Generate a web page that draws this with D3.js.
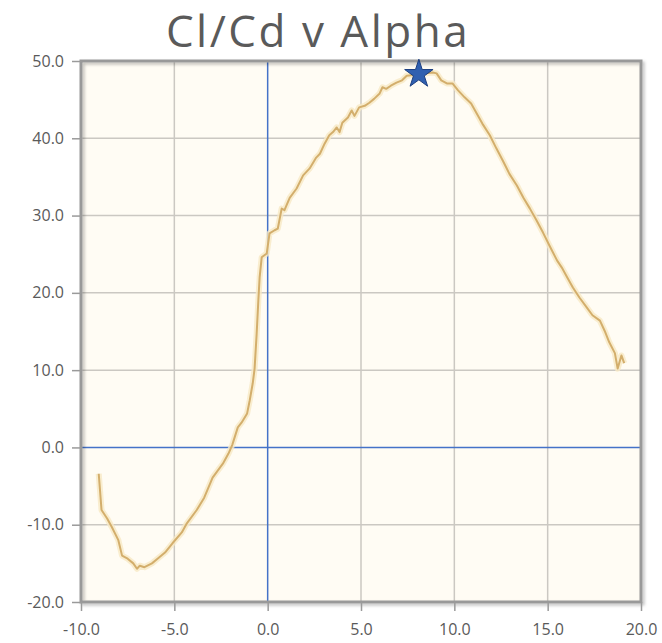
<!DOCTYPE html>
<html>
<head>
<meta charset="utf-8">
<script src="https://d3js.org/d3.v7.min.js"></script>
<title>Cl/Cd v Alpha</title>
<style>
  body { margin: 0; background: white; }
  svg { display: block; font-family: 'Open Sans', sans-serif; }
</style>
</head>
<body>
<div class="chart"></div>
<script>
    const alpha = [-9.05, -8.9, -8.6, -8.35, -8.0, -7.8, -7.5, -7.2, -7.0, -6.85, -6.6, -6.2, -5.9, -5.5, -5.1,
        -4.6, -4.35, -3.8, -3.4, -2.95, -2.4, -2.1, -1.9, -1.6, -1.4, -1.1, -0.96, -0.8, -0.7, -0.59, -0.5,
        -0.43, -0.32, -0.05, 0.1, 0.37, 0.54, 0.75, 0.9, 1.18, 1.55, 1.9, 2.25, 2.6, 2.8, 3.05, 3.3, 3.5, 3.7,
        3.85, 4.0, 4.3, 4.5, 4.65, 4.9, 5.2, 5.45, 5.7, 6.0, 6.15, 6.35, 6.6, 6.9, 7.2, 7.45, 7.8, 8.1, 8.5,
        8.85, 9.05, 9.3, 9.6, 9.9, 10.2, 10.55, 10.9, 11.2, 11.5, 11.9, 12.25, 12.6, 12.95, 13.35, 13.7, 14.05,
        14.4, 14.75, 15.1, 15.5, 15.75, 16.05, 16.35, 16.7, 17.1, 17.4, 17.8, 18.05, 18.3, 18.6, 18.75, 18.95, 19.1];
    const clcd = [-3.4, -8.1, -9.2, -10.3, -12.0, -14.0, -14.4, -15.0, -15.7, -15.3, -15.5, -15.0, -14.4, -13.6, -12.4,
        -11.0, -9.9, -8.1, -6.5, -3.9, -2.1, -0.8, 0.3, 2.6, 3.2, 4.4, 6.1, 8.3, 10.2, 14.7, 19.0,
        22.0, 24.6, 25.1, 27.7, 28.1, 28.3, 30.9, 30.7, 32.3, 33.5, 35.2, 36.1, 37.5, 38.0, 39.3, 40.4, 40.8, 41.4,
        40.8, 42.0, 42.7, 43.6, 42.9, 44.0, 44.2, 44.6, 45.1, 45.8, 46.6, 46.4, 46.8, 47.2, 47.5, 48.1, 48.2, 48.3, 48.4,
        48.5, 48.4, 47.5, 47.1, 47.1, 46.2, 45.3, 44.5, 43.2, 41.9, 40.4, 38.7, 37.1, 35.4, 33.9, 32.3, 30.9,
        29.4, 27.8, 26.1, 24.2, 23.3, 22.0, 20.7, 19.4, 18.1, 17.1, 16.4, 15.1, 13.6, 12.2, 10.2, 11.9, 10.9];
    const bestPoint = [8.1, 48.3];
    const xTicks = [-10, -5, 0, 5, 10, 15, 20];
    const yTicks = [-20, -10, 0, 10, 20, 30, 40, 50];
    const title = "Cl/Cd v Alpha";

    const w = 662;
    const h = 643;
    const pLeft = 81, pRight = 641, pTop = 61, pBottom = 602;

    const xScale = d3.scaleLinear().domain([-10, 20]).range([pLeft, pRight]);
    const yScale = d3.scaleLinear().domain([-20, 50]).range([pBottom, pTop]);
    const fmt = d => d.toFixed(1);

    const svg = d3.select(".chart")
        .append("svg")
        .attr("width", w)
        .attr("height", h);

    const defs = svg.append("defs");
    const shadow = defs.append("filter").attr("id", "shadow")
        .attr("x", "-10%").attr("y", "-10%").attr("width", "120%").attr("height", "120%");
    shadow.append("feDropShadow")
        .attr("dx", 2).attr("dy", 2).attr("stdDeviation", 1.5)
        .attr("flood-color", "#000").attr("flood-opacity", 0.25);

    // plot background
    svg.append("rect")
        .attr("x", pLeft).attr("y", pTop)
        .attr("width", pRight - pLeft).attr("height", pBottom - pTop)
        .attr("fill", "#fffcf4");

    // grid
    svg.append("g")
        .selectAll("line")
        .data(xTicks.filter(d => d !== 0 && d !== -10 && d !== 20))
        .enter().append("line")
        .attr("x1", d => xScale(d)).attr("x2", d => xScale(d))
        .attr("y1", pTop).attr("y2", pBottom)
        .attr("stroke", "#cbc8c2").attr("stroke-width", 1.5);
    svg.append("g")
        .selectAll("line")
        .data(yTicks.filter(d => d !== 0 && d !== -20 && d !== 50))
        .enter().append("line")
        .attr("x1", pLeft).attr("x2", pRight)
        .attr("y1", d => yScale(d)).attr("y2", d => yScale(d))
        .attr("stroke", "#cbc8c2").attr("stroke-width", 1.5);

    // zero lines
    svg.append("line")
        .attr("x1", xScale(0)).attr("x2", xScale(0))
        .attr("y1", pTop).attr("y2", pBottom)
        .attr("stroke", "#4472c8").attr("stroke-width", 1.5);
    svg.append("line")
        .attr("x1", pLeft).attr("x2", pRight)
        .attr("y1", yScale(0)).attr("y2", yScale(0))
        .attr("stroke", "#4472c8").attr("stroke-width", 1.5);

    // frame
    svg.append("rect")
        .attr("x", pLeft).attr("y", pTop)
        .attr("width", pRight - pLeft).attr("height", pBottom - pTop)
        .attr("fill", "none")
        .attr("stroke", "#999").attr("stroke-width", 3)
        .attr("filter", "url(#shadow)");

    // axes
    const xAxis = svg.append("g")
        .attr("transform", `translate(0 ${pBottom})`)
        .call(d3.axisBottom(xScale).tickValues(xTicks).tickFormat(fmt).tickSize(9).tickPadding(13));
    const yAxis = svg.append("g")
        .attr("transform", `translate(${pLeft} 0)`)
        .call(d3.axisLeft(yScale).tickValues(yTicks).tickFormat(fmt).tickSize(9).tickPadding(8));
    [xAxis, yAxis].forEach(a => {
        a.select(".domain").remove();
        a.selectAll("line").attr("stroke", "#9a9a9a").attr("stroke-width", 1.5);
        a.selectAll("text").attr("fill", "#5a5a5a").attr("font-size", 16)
            .attr("font-family", "'Open Sans', sans-serif");
    });

    // the curve, with a pale halo under it
    const points = alpha.map((a, i) => [a, clcd[i]]);
    const line = d3.line().x(d => xScale(d[0])).y(d => yScale(d[1]));
    svg.append("path")
        .attr("d", line(points))
        .attr("fill", "none")
        .attr("stroke", "#f7e8c4").attr("stroke-width", 6)
        .attr("stroke-linejoin", "round").attr("opacity", 0.8);
    svg.append("path")
        .attr("d", line(points))
        .attr("fill", "none")
        .attr("stroke", "#d3ae6c").attr("stroke-width", 2)
        .attr("stroke-linejoin", "round");

    // star marker
    svg.append("path")
        .attr("d", d3.symbol().type(d3.symbolStar).size(250)())
        .attr("transform", `translate(${xScale(bestPoint[0])} ${yScale(bestPoint[1])})`)
        .attr("fill", "#3060b0")
        .attr("stroke", "#1d3f80").attr("stroke-width", 1);

    // title
    svg.append("text")
        .attr("x", 318).attr("y", 47)
        .attr("text-anchor", "middle")
        .attr("fill", "#5a5a5a")
        .attr("font-size", 44)
        .attr("letter-spacing", 2.5)
        .text(title);
</script>
</body>
</html>
